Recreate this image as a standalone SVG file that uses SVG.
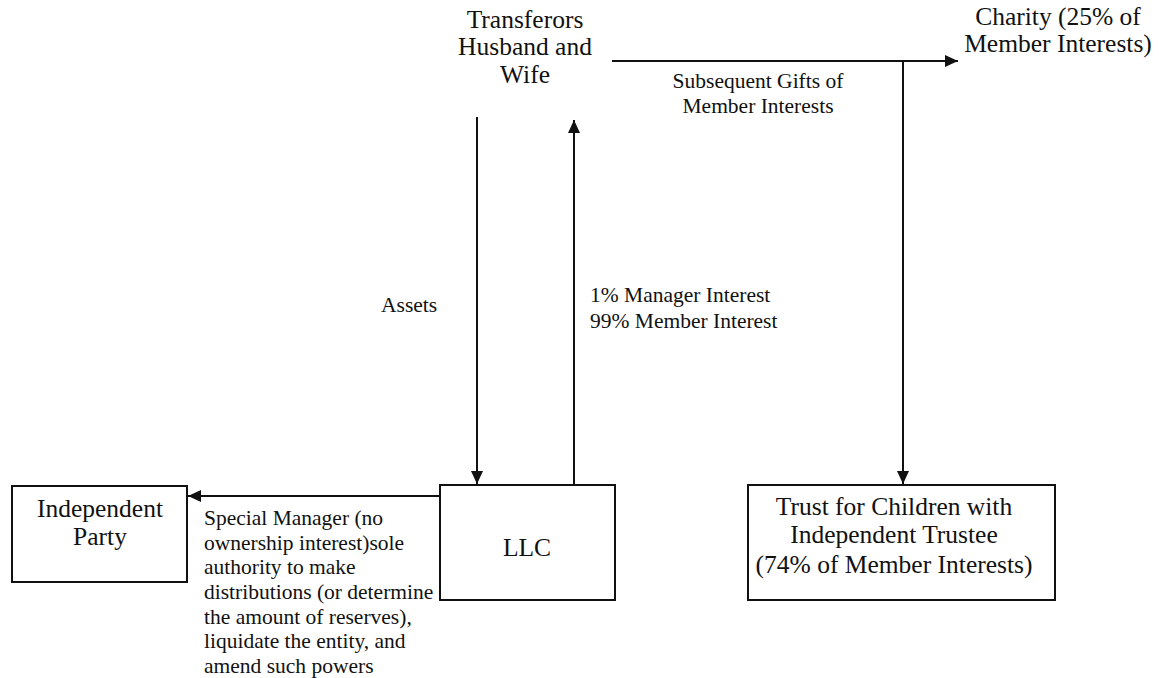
<svg xmlns="http://www.w3.org/2000/svg" width="1159" height="678" viewBox="0 0 1159 678">
<defs>
<style>
text{font-family:"Liberation Serif","Times New Roman",serif;fill:#111}
.n{font-size:25.5px;text-anchor:middle}
.l{font-size:21.5px}
.lc{font-size:21.5px;text-anchor:middle}
.box{fill:#fff;stroke:#111;stroke-width:2}
.p{stroke:#111;stroke-width:2;fill:none;marker-end:url(#ah)}
</style>
<marker id="ah" markerWidth="13" markerHeight="12" refX="13" refY="6" orient="auto" markerUnits="userSpaceOnUse"><path d="M0,0 L13,6 L0,12 z" fill="#111"/></marker>
</defs>
<g id="connectors">
<path class="p" d="M612,61 H958"/>
<path class="p" d="M903,61 V484"/>
<path class="p" d="M477,117 V484"/>
<path class="p" d="M574,485 V120"/>
<path class="p" d="M440,496 H188"/>
<text class="lc" x="758" y="88">Subsequent Gifts of</text>
<text class="lc" x="758" y="113">Member Interests</text>
<text class="l" x="381" y="312">Assets</text>
<text class="l" x="590" y="302">1% Manager Interest</text>
<text class="l" x="590" y="328">99% Member Interest</text>
<text class="l" x="204" y="525">Special Manager (no</text>
<text class="l" x="204" y="550">ownership interest)sole</text>
<text class="l" x="204" y="574">authority to make</text>
<text class="l" x="204" y="599">distributions (or determine</text>
<text class="l" x="204" y="624">the amount of reserves),</text>
<text class="l" x="204" y="648">liquidate the entity, and</text>
<text class="l" x="204" y="673">amend such powers</text>
</g>
<g id="transferors">
<text class="n" x="525" y="28">Transferors</text>
<text class="n" x="525" y="55">Husband and</text>
<text class="n" x="525" y="83">Wife</text>
</g>
<g id="charity">
<text class="n" x="1058" y="25">Charity (25% of</text>
<text class="n" x="1058" y="52">Member Interests)</text>
</g>
<g id="llc">
<rect class="box" x="440" y="485" width="175" height="115"/>
<text class="n" x="527" y="556">LLC</text>
</g>
<g id="independent">
<rect class="box" x="12" y="486" width="175" height="96"/>
<text class="n" x="100" y="517">Independent</text>
<text class="n" x="100" y="545">Party</text>
</g>
<g id="trust">
<rect class="box" x="748" y="485" width="307" height="115"/>
<text class="n" x="894" y="515">Trust for Children with</text>
<text class="n" x="894" y="543">Independent Trustee</text>
<text class="n" x="894" y="573">(74% of Member Interests)</text>
</g>
</svg>
